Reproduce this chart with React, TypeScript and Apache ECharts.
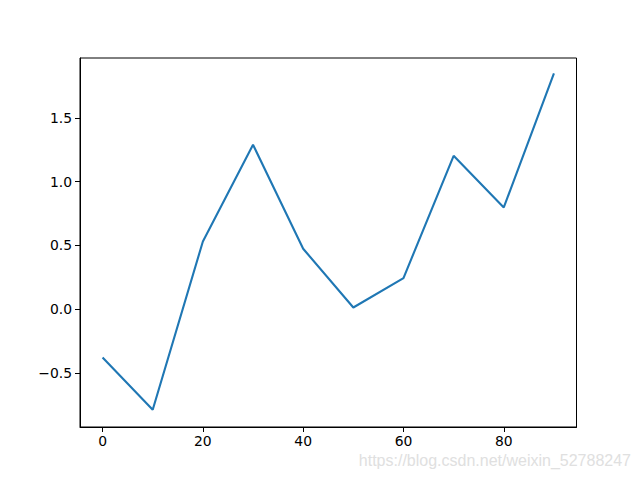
import React, { useEffect, useRef } from "react";
import * as echarts from "echarts";

const xValues = [0, 10, 20, 30, 40, 50, 60, 70, 80, 90];
const yValues = [-0.38, -0.79, 0.53, 1.289, 0.473, 0.012, 0.243, 1.202, 0.797, 1.848];
const xTicks = [0, 20, 40, 60, 80];
const yTicks = [-0.5, 0, 0.5, 1.0, 1.5];
const watermark = "https://blog.csdn.net/weixin_52788247";

const fmtY = (v: number) => {
  const s = Math.abs(v).toFixed(1);
  return v < 0 ? "\u2212" + s : s;
};

export default function App() {
  const ref = useRef<HTMLDivElement>(null);
  useEffect(() => {
    if (!ref.current) return;
    const chart = echarts.init(ref.current, null, { renderer: "svg" });
    const font = "DejaVu Sans";
    chart.setOption({
      animation: false,
      backgroundColor: "#ffffff",
      grid: {
        left: 80,
        right: 63.5,
        top: 58,
        bottom: 53,
        show: true,
        borderColor: "#000000",
        borderWidth: 1,
        backgroundColor: "transparent",
      },
      xAxis: {
        type: "value",
        min: -4.5,
        max: 94.5,
        splitLine: { show: false },
        axisLine: { show: true, onZero: false, lineStyle: { color: "#000", width: 1 } },
        axisTick: {
          show: true,
          length: 5,
          lineStyle: { color: "#000", width: 1 },
          customValues: xTicks,
        },
        axisLabel: {
          customValues: xTicks,
          color: "#000",
          fontFamily: font,
          fontSize: 13.9,
          margin: 7,
          formatter: (v: number) => String(v),
        },
      },
      yAxis: {
        type: "value",
        min: -0.925,
        max: 1.969,
        splitLine: { show: false },
        axisLine: { show: true, onZero: false, lineStyle: { color: "#000", width: 1 } },
        axisTick: {
          show: true,
          length: 5,
          lineStyle: { color: "#000", width: 1 },
          customValues: yTicks,
        },
        axisLabel: {
          customValues: yTicks,
          color: "#000",
          fontFamily: font,
          fontSize: 13.9,
          margin: 8,
          formatter: (v: number) => fmtY(v),
        },
      },
      graphic: [
        {
          type: "text",
          right: 9,
          top: 452,
          style: {
            text: watermark,
            fill: "#e0e0e0",
            font: "16px Arial, 'Liberation Sans', sans-serif",
          },
        },
      ],
      series: [
        {
          type: "line",
          data: xValues.map((x, i) => [x, yValues[i]]),
          showSymbol: false,
          symbol: "none",
          lineStyle: { color: "#1f77b4", width: 2.1 },
          itemStyle: { color: "#1f77b4" },
          z: 3,
        },
      ],
    });
    return () => chart.dispose();
  }, []);
  return (
    <div
      ref={ref}
      style={{ position: "fixed", left: 0, top: 0, width: 640, height: 480 }}
    />
  );
}
